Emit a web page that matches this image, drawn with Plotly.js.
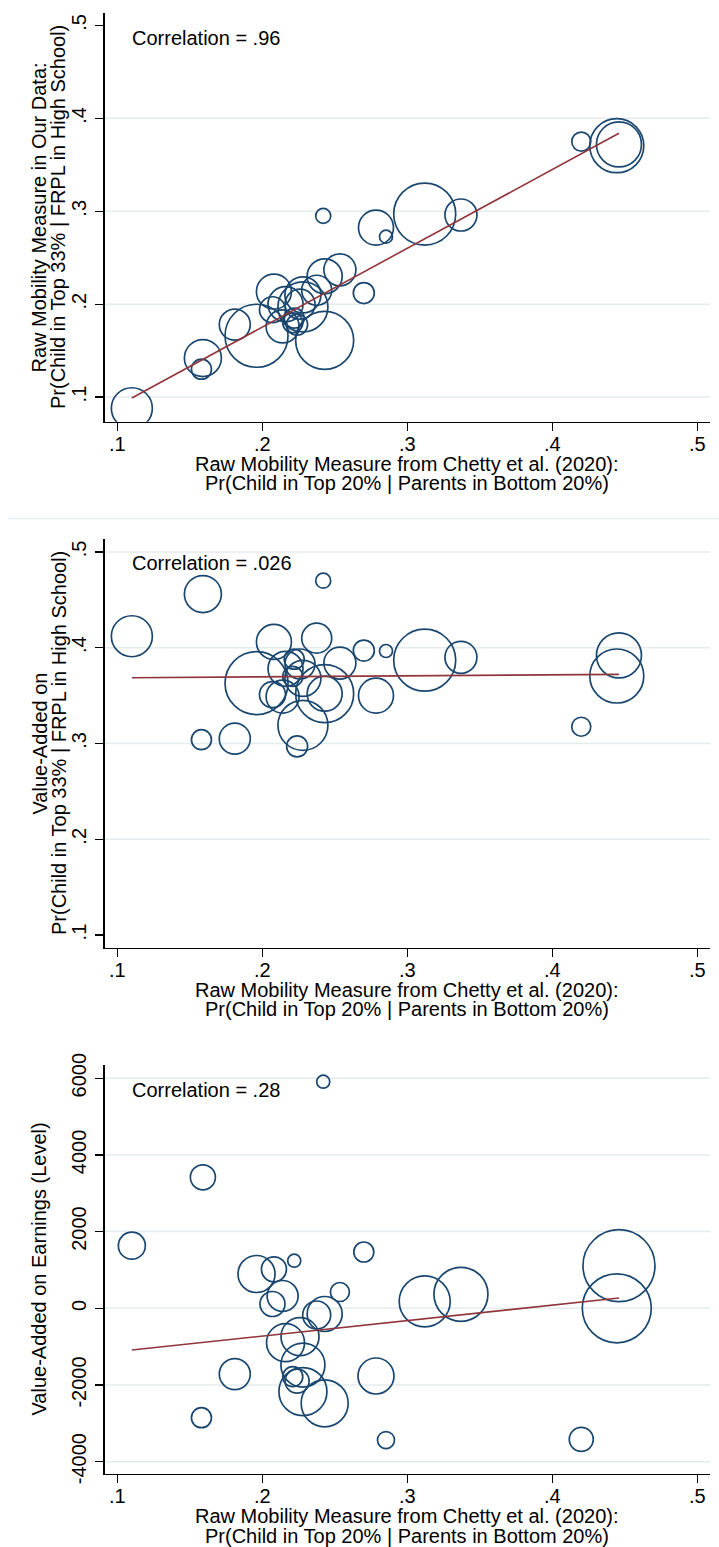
<!DOCTYPE html>
<html><head><meta charset="utf-8">
<script src="https://cdn.plot.ly/plotly-3.0.1.min.js"></script>
<style>html,body{margin:0;padding:0;background:#fff}#chart{width:719px;height:1547px}</style>
</head><body><div id="chart"></div>
<script>
// ---- data ----
const chettyMobility = [0.110,0.159,0.158,0.181,0.196,0.208,0.222,0.214,0.207,0.216,0.226,0.228,0.221,0.224,0.228,0.243,0.2375,0.243,0.2535,0.270,0.242,0.2784,0.2853,0.312,0.337,0.420,0.446,0.4445];
const rawMobilityOurs = [0.088,0.142,0.130,0.178,0.166,0.2135,0.185,0.176,0.194,0.200,0.200,0.210,0.180,0.178,0.197,0.161,0.215,0.230,0.237,0.212,0.295,0.2824,0.2727,0.297,0.296,0.375,0.372,0.3706];
const vaTop33 = [0.412,0.456,0.304,0.305,0.363,0.406,0.388,0.349,0.351,0.378,0.383,0.368,0.370,0.297,0.319,0.352,0.410,0.352,0.384,0.397,0.470,0.350,0.3966,0.387,0.390,0.3175,0.392,0.3705];
const vaEarnings = [1633,3417,-2853,-1715,895,1017,1241,321,112,-897,-740,-1480,-1783,-1900,-2174,-2478,-175,-149,425,1468,5910,-1765,-3435,182,365,-3417,1111,0];
const weightTop = [41,37,20,31,63,35,20,33,26,35,30,36,20,21,50,58,30,35,32,21,15,35,13,62,32,19,45,54];
const weightEarn = [27,25,20,31,37,25,13,31,25,38,38,44,20,24,48,47,28,35,19,20,13,36,17,51,54,24,72,69];
const fitX = [0.110,0.446];
const fitRaw = [0.099,0.384];
const fitVaTop = [0.3687,0.3722];
const fitVaEarn = [-1088,269];
const correlations = ['.96','.026','.28'];
const xTicks = [0.1,0.2,0.3,0.4,0.5];
const xTickText = ['.1','.2','.3','.4','.5'];
const yTicks12 = [0.1,0.2,0.3,0.4,0.5];
const yTickText12 = ['.1','.2','.3','.4','.5'];
const yTicks3 = [-4000,-2000,0,2000,4000,6000];
const yTickText3 = ['-4000','-2000','0','2000','4000','6000'];
const grid1 = [0.1,0.2,0.3,0.4];
const grid2 = [0.2,0.3,0.4,0.5];
const grid3 = [-4000,-2000,0,2000,4000,6000];
const xTitle = ['Raw Mobility Measure from Chetty et al. (2020):','Pr(Child in Top 20% | Parents in Bottom 20%)'];
const yTitle1 = ['Raw Mobility Measure in Our Data:','Pr(Child in Top 33% | FRPL in High School)'];
const yTitle2 = ['Value-Added on','Pr(Child in Top 33% | FRPL in High School)'];
const yTitle3 = ['Value-Added on Earnings (Level)'];

// ---- styling / layout ----
const W = 719, H = 1547;
const px = v => v / W, py = v => 1 - v / H;
const NAVY = '#1a476f', MAROON = '#90353b', GRID = '#e4ecee';
const FONT = 'Liberation Sans, Arial, sans-serif';

const panels = [
  {top: 13.3, bottom: 421.7, y: rawMobilityOurs, size: weightTop, fit: fitRaw, range: [0.0735, 0.5131], tv: yTicks12, tt: yTickText12, grid: grid1, title: yTitle1, corrY: 38.3},
  {top: 539.3, bottom: 947.7, y: vaTop33, size: weightTop, fit: fitVaTop, range: [0.0868, 0.5132], tv: yTicks12, tt: yTickText12, grid: grid2, title: yTitle2, corrY: 563.3},
  {top: 1065, bottom: 1474, y: vaEarnings, size: weightEarn, fit: fitVaEarn, range: [-4321, 6345], tv: yTicks3, tt: yTickText3, grid: grid3, title: yTitle3, corrY: 1090}
];

const traces = [], shapes = [], annotations = [];
const layout = {
  width: W, height: H, margin: {l: 0, r: 0, t: 0, b: 0},
  paper_bgcolor: '#fff', plot_bgcolor: '#fff', showlegend: false,
  font: {family: FONT, size: 20, color: '#000'}
};

panels.forEach((p, i) => {
  const n = i === 0 ? '' : String(i + 1);
  const xa = 'x' + n, ya = 'y' + n;
  layout['xaxis' + n] = {
    domain: [px(104.6), px(710)], range: [0.0912, 0.5088], anchor: ya,
    tickvals: xTicks, ticktext: xTickText, ticks: 'outside', ticklen: 8, tickwidth: 1.2, tickcolor: '#000',
    ticklabelstandoff: -4,
    showline: true, linecolor: '#000', linewidth: 1.3, showgrid: false, zeroline: false,
    tickfont: {family: FONT, size: 20, color: '#000'}
  };
  layout['yaxis' + n] = {
    domain: [py(p.bottom), py(p.top)], range: p.range, anchor: xa,
    tickvals: p.tv, ticktext: p.tt, tickangle: -90, ticks: 'outside', ticklen: 8, tickwidth: 1.2, tickcolor: '#000',
    ticklabelstandoff: 1,
    showline: true, linecolor: '#000', linewidth: 1.3, showgrid: false, zeroline: false,
    tickfont: {family: FONT, size: 20, color: '#000'}
  };
  p.grid.forEach(g => shapes.push({type: 'line', xref: xa + ' domain', yref: ya, x0: 0, x1: 1, y0: g, y1: g,
    line: {color: GRID, width: 1.5}, layer: 'below'}));
  traces.push({type: 'scatter', mode: 'markers', x: chettyMobility, y: p.y, xaxis: xa, yaxis: ya,
    marker: {symbol: 'circle', size: p.size, color: 'rgba(0,0,0,0)', opacity: 1, line: {width: 1.7, color: NAVY}}, hoverinfo: 'x+y'});
  traces.push({type: 'scatter', mode: 'lines', x: fitX, y: p.fit, xaxis: xa, yaxis: ya,
    line: {color: MAROON, width: 1.6}, hoverinfo: 'skip'});
  annotations.push({xref: 'paper', yref: 'paper', x: px(129.5), y: py(p.corrY), xanchor: 'left', yanchor: 'middle',
    text: 'Correlation = ' + correlations[i], showarrow: false, font: {family: FONT, size: 20, color: '#000'}});
  // x-axis titles (two tight lines)
  xTitle.forEach((t, k) => annotations.push({xref: 'paper', yref: 'paper', x: px(407.3), y: py(p.bottom + 42 + k * 19.5),
    xanchor: 'center', yanchor: 'middle', text: t, showarrow: false, font: {family: FONT, size: 20, color: '#000'}}));
  // y-axis titles
  const mid = (p.top + p.bottom) / 2;
  const xs = p.title.length === 2 ? [39, 58.5] : [38];
  p.title.forEach((t, k) => annotations.push({xref: 'paper', yref: 'paper', x: px(xs[k]), y: py(mid), textangle: -90,
    xanchor: 'center', yanchor: 'middle', text: t, showarrow: false, font: {family: FONT, size: 20, color: '#000'}}));
});

// faint separator between first and second graph
shapes.push({type: 'line', xref: 'paper', yref: 'paper', x0: px(8), x1: 1, y0: py(518.5), y1: py(518.5),
  line: {color: '#e8eef2', width: 1.5}});

layout.shapes = shapes;
layout.annotations = annotations;
Plotly.newPlot('chart', traces, layout, {displayModeBar: false, staticPlot: true});
</script></body></html>
